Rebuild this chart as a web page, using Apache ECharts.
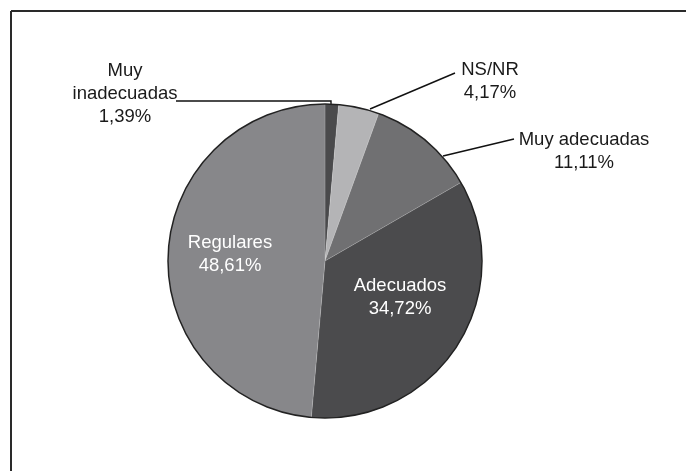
<!DOCTYPE html>
<html>
<head>
<meta charset="utf-8">
<script src="https://cdn.jsdelivr.net/npm/echarts@6/dist/echarts.min.js"></script>
<style>
html,body{margin:0;padding:0;background:#fff;}
#c{width:686px;height:471px;}
</style>
</head>
<body>
<div id="c"></div>
<script>
var categories = ['Muy inadecuadas', 'NS/NR', 'Muy adecuadas', 'Adecuados', 'Regulares'];
var labelNames = ['Muy\ninadecuadas', 'NS/NR', 'Muy adecuadas', 'Adecuados', 'Regulares'];
var values = [1.39, 4.17, 11.11, 34.72, 48.61];
var colors = ['#4a4a4c', '#b4b4b6', '#707072', '#4b4b4d', '#87878a'];

// label placement (label centres and leader line routes)
var labelPos = [
  {x: 125, y: 94, line: [[331, 105], [331, 101], [176, 101]]},
  {x: 490, y: 81, line: [[370, 109], [455, 73], [455, 73]]},
  {x: 584, y: 151, line: [[443, 156], [514, 139], [514, 139]]},
  {x: 400, y: 297},
  {x: 230, y: 254}
];

function fmt(v) { return v.toFixed(2).replace('.', ',') + '%'; }

var data = categories.map(function (c, i) {
  var inside = i >= 3;
  return {
    name: c,
    value: values[i],
    itemStyle: {color: colors[i]},
    label: {
      formatter: labelNames[i] + '\n' + fmt(values[i]),
      color: inside ? '#ffffff' : '#1a1a1a'
    },
    labelLine: {show: !inside}
  };
});

var chart = echarts.init(document.getElementById('c'), null, {renderer: 'canvas'});
chart.setOption({
  animation: false,
  backgroundColor: '#ffffff',
  graphic: [
    {type: 'line', shape: {x1: 11, y1: 11, x2: 686, y2: 11}, style: {stroke: '#2a2a2a', lineWidth: 2}},
    {type: 'line', shape: {x1: 11, y1: 11, x2: 11, y2: 471}, style: {stroke: '#2a2a2a', lineWidth: 2}}
  ],
  series: [
    {
      type: 'pie',
      center: [325, 261],
      radius: 157,
      startAngle: 90,
      clockwise: true,
      silent: true,
      itemStyle: {borderColor: 'rgba(255,255,255,0.25)', borderWidth: 0.6},
      label: {
        show: true,
        position: 'outside',
        fontFamily: 'Liberation Sans, Arial, sans-serif',
        fontSize: 18.5,
        lineHeight: 23,
        align: 'center'
      },
      labelLine: {show: true, lineStyle: {color: '#111', width: 1.4}, length: 10, length2: 10},
      labelLayout: function (p) {
        var lp = labelPos[p.dataIndex];
        var r = {x: lp.x, y: lp.y, align: 'center', verticalAlign: 'middle'};
        if (lp.line) r.labelLinePoints = lp.line;
        return r;
      },
      data: data
    },
    {
      type: 'pie',
      center: [325, 261],
      radius: 157,
      silent: true,
      label: {show: false},
      labelLine: {show: false},
      itemStyle: {color: 'rgba(0,0,0,0)', borderColor: '#222', borderWidth: 1.5},
      data: [{name: 'outline', value: 1}],
      z: 3
    }
  ]
});
</script>
</body>
</html>
